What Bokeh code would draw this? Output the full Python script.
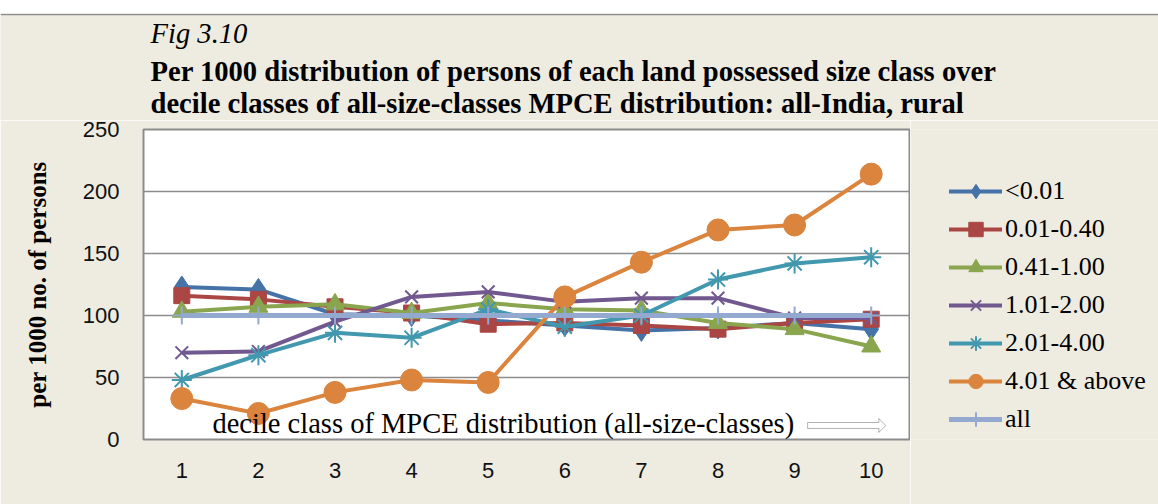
from bokeh.plotting import figure
from bokeh.models import Label, Legend, LegendItem, FixedTicker, PolyAnnotation, Spacer, Range1d, Span
from bokeh.layouts import column, row
from bokeh.embed import file_html
from bokeh.resources import INLINE

# ---- data ----
deciles = [1, 2, 3, 4, 5, 6, 7, 8, 9, 10]
y_ticks = [0, 50, 100, 150, 200, 250]
series_labels = ["<0.01", "0.01-0.40", "0.41-1.00", "1.01-2.00", "2.01-4.00", "4.01 & above", "all"]
lt_0_01 = [123, 121, 101, 100, 96, 92, 88, 90, 94, 89]
s_0_01_0_40 = [116, 113, 107, 102, 93, 94, 92, 89, 94, 97]
s_0_41_1_00 = [103, 107, 109, 102, 110, 105, 104, 94, 89, 75]
s_1_01_2_00 = [70, 71, 95, 115, 119, 111, 114, 114, 98, 98]
s_2_01_4_00 = [48, 68, 86, 82, 105, 91, 100, 129, 142, 147]
s_4_01_up = [33, 21, 38, 48, 46, 115, 143, 169, 173, 214]
s_all = [100, 100, 100, 100, 100, 100, 100, 100, 100, 100]
series_values = [lt_0_01, s_0_01_0_40, s_0_41_1_00, s_1_01_2_00, s_2_01_4_00, s_4_01_up, s_all]

fig_label = "Fig 3.10"
title_line1 = "Per 1000 distribution of persons of each land possessed size class over"
title_line2 = "decile classes of all-size-classes MPCE distribution: all-India, rural"
y_label = "per 1000 no. of persons"
x_caption = "decile class of MPCE distribution (all-size-classes)"

# ---- styles ----
colors = ["#4572A7", "#AA4643", "#89A54E", "#71588F", "#4198AF", "#DB843D", "#93A9CF"]
markers = ["diamond", "square", "triangle", "x", "asterisk", "circle", "cross"]
msizes = [22, 16, 19, 18, 20, 22, 18]
mline = [1, 1, 1, 2, 2, 1, 2]
lwidths = [4, 4, 4, 4, 4, 4, 5]

BG = "#EEEBE0"
SERIF = "Liberation Serif"
NARROW = "'Liberation Sans Narrow', 'Liberation Sans', sans-serif"

# ---------------- title strip ----------------
pt = figure(width=1158, height=107, x_range=Range1d(0, 1158), y_range=Range1d(0, 107),
            x_axis_type=None, y_axis_type=None, output_backend="svg", toolbar_location=None,
            min_border=0)
pt.background_fill_color = BG
pt.border_fill_color = BG
pt.outline_line_color = None
pt.grid.visible = False
pt.add_layout(Span(location=106, dimension="width", line_color="#8C8C8C", line_width=1.5))
for txt, yy, style in [(fig_label, 87, "italic"), (title_line1, 49, "bold"), (title_line2, 17, "bold")]:
    pt.add_layout(Label(x=150, y=yy, x_units="screen", y_units="screen", text=txt,
                        text_font=SERIF, text_font_style=style, text_font_size="28.6px",
                        text_baseline="middle", text_color="black"))

# ---------------- main chart ----------------
p = figure(width=910, height=384, x_range=(0.5, 10.5), y_range=(0, 250),
           output_backend="svg", toolbar_location=None,
           min_border_left=143, min_border_right=1, min_border_top=9, min_border_bottom=65)
p.border_fill_color = BG
p.background_fill_color = "white"
p.outline_line_color = "#8C8C8C"
p.outline_line_width = 2

p.xgrid.visible = False
p.ygrid.ticker = FixedTicker(ticks=y_ticks)
p.ygrid.grid_line_color = "#8C8C8C"
p.ygrid.grid_line_width = 1.5

for ax in (p.xaxis, p.yaxis):
    ax.axis_line_color = None
    ax.major_tick_line_color = None
    ax.minor_tick_line_color = None
    ax.major_label_text_font = NARROW
    ax.major_label_text_font_size = "22px"
    ax.major_label_text_color = "#111111"
p.xaxis.ticker = FixedTicker(ticks=deciles)
p.yaxis.ticker = FixedTicker(ticks=y_ticks)
p.xaxis.major_label_standoff = 17
p.yaxis.major_label_standoff = 18
p.yaxis.axis_label = y_label
p.yaxis.axis_label_text_font = SERIF
p.yaxis.axis_label_text_font_style = "bold"
p.yaxis.axis_label_text_font_size = "25px"
p.yaxis.axis_label_text_color = "black"
p.yaxis.axis_label_standoff = 29

for vals, c, m, s, ml, lw in zip(series_values, colors, markers, msizes, mline, lwidths):
    p.line(deciles, vals, line_color=c, line_width=lw)
    p.scatter(deciles, vals, marker=m, size=s, fill_color=c, line_color=c, line_width=ml)

p.add_layout(Label(x=1.40, y=12.9, text=x_caption,
                   text_font=SERIF, text_font_size="28.5px", text_baseline="middle", text_color="black"))
arrow_xs = [9.17, 10.10, 10.10, 10.19, 10.10, 10.10, 9.17]
arrow_ys = [13.7, 13.7, 16.9, 11.3, 5.7, 8.9, 8.9]
p.add_layout(PolyAnnotation(xs=arrow_xs, ys=arrow_ys, fill_color="white", fill_alpha=1,
                            line_color="black", line_width=1))

# ---------------- legend strip (same series, drawn outside its visible range) ----------------
pl = figure(width=248, height=384, x_range=Range1d(-3, -2), y_range=Range1d(-3, -2),
            x_axis_type=None, y_axis_type=None, output_backend="svg", toolbar_location=None,
            min_border=0)
pl.background_fill_color = BG
pl.border_fill_color = BG
pl.outline_line_color = None
pl.grid.visible = False
items = []
for lab, vals, c, m, s, ml, lw in zip(series_labels, series_values, colors, markers, msizes, mline, lwidths):
    rl = pl.line(deciles, vals, line_color=c, line_width=lw, line_cap="round")
    rm = pl.scatter(deciles, vals, marker=m, size=s, fill_color=c, line_color=c, line_width=ml)
    items.append(LegendItem(label=lab, renderers=[rl, rm]))
legend = Legend(items=items, location=(39, 2), orientation="vertical",
                glyph_width=53, glyph_height=36, label_height=36, spacing=2,
                label_standoff=3, padding=0, margin=0,
                background_fill_alpha=0, border_line_color=None,
                label_text_font=SERIF, label_text_font_size="26px", label_text_color="black")
pl.add_layout(legend, "center")

layout = column(Spacer(width=1158, height=13), pt, row(p, pl))
open("out.html", "w").write(file_html(layout, INLINE))
